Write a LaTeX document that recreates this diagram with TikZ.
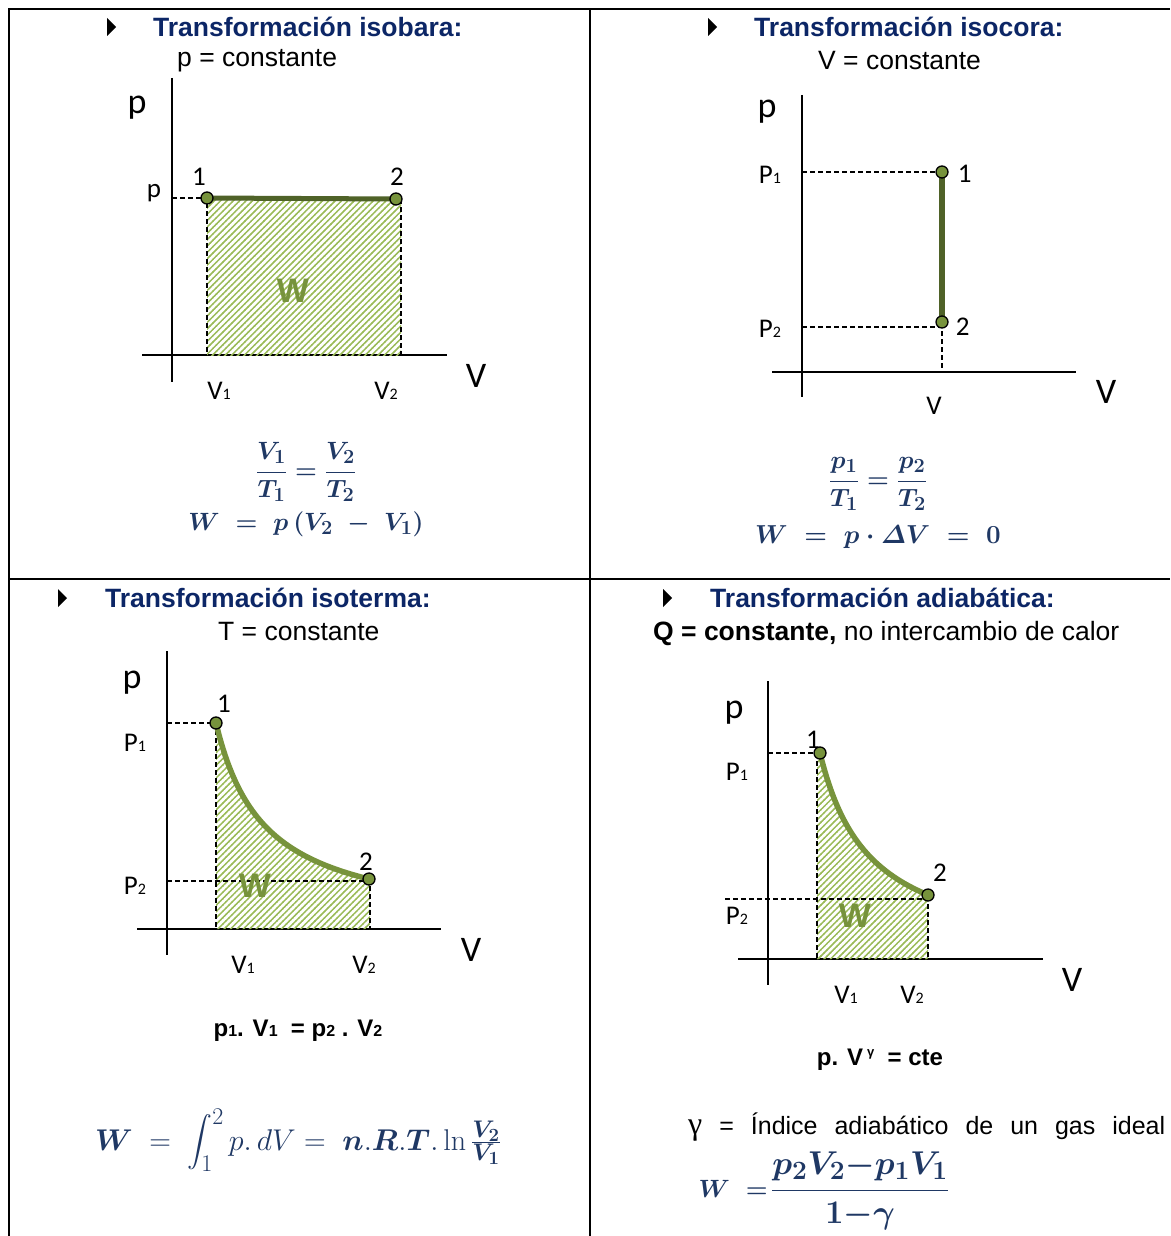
\RequirePackage{fix-cm}
\documentclass[tikz,border=0pt]{standalone}
\usepackage{amsmath}
\usepackage[no-math]{fontspec}
\newfontfamily\arial{Liberation Sans}
\newfontfamily\calib{Carlito}
\newfontfamily\tnr{Liberation Serif}
\usepackage{tikz}
\usetikzlibrary{patterns.meta, positioning}

\definecolor{titleblue}{RGB}{12,38,102}
\definecolor{mathblue}{RGB}{31,56,100}
\definecolor{curvegreen}{RGB}{119,147,60}
\definecolor{linegreen}{RGB}{79,98,40}
\definecolor{hatchgreen}{RGB}{155,187,89}

% bigger sub/superscripts, closer to the original
\def\defaultscriptratio{.8}
\def\defaultscriptscriptratio{.62}

\tikzdeclarepattern{
  name=hatchW,
  type=uncolored,
  bounding box={(-0.5pt,-1pt) and (5pt,1pt)},
  tile size={(4.5pt,4.5pt)},
  tile transformation={rotate=45},
  code={\draw[line width=1.5pt] (-0.5pt,0pt) -- (5pt,0pt);}
}

\newcommand\lo[1]{{\fontsize{16}{16}\selectfont #1}}
\newcommand\bul[2]{\fill ({#1-4},{#2-9}) -- ({#1+5},#2) -- ({#1-4},{#2+9}) -- cycle;}
\newcommand\bmath[1]{{\boldmath$#1$}}

\begin{document}
\begin{tikzpicture}[x=1pt, y=-1pt,
  frame/.style={line width=2pt},
  axis/.style={line width=2pt},
  guide/.style={dash pattern=on 5pt off 3pt, line width=1.5pt},
  hatch/.style={pattern=hatchW, pattern color=hatchgreen},
  pt/.style={circle, draw=black, line width=1.3pt, fill=curvegreen, minimum size=12pt, inner sep=0pt},
  isoline/.style={draw=linegreen, line width=5pt},
  curve/.style={draw=curvegreen, line width=5.5pt},
  title/.style={anchor=west, font=\arial\bfseries\fontsize{26.5}{30}\selectfont, text=titleblue, inner sep=0pt},
  cond/.style={anchor=west, font=\arial\fontsize{26.5}{30}\selectfont, inner sep=0pt},
  axlbl/.style={font=\calib\fontsize{36}{40}\selectfont, inner sep=0pt},
  ptlbl/.style={font=\calib\fontsize{27}{30}\selectfont, inner sep=0pt},
  tick/.style={font=\calib\fontsize{27}{30}\selectfont, inner sep=0pt},
  work/.style={font=\arial\bfseries\fontsize{34}{38}\selectfont, text=curvegreen, inner sep=0pt},
  eq/.style={font=\fontsize{25}{30}\selectfont, text=mathblue, inner sep=0pt},
  law/.style={font=\arial\bfseries\fontsize{24}{28}\selectfont, inner sep=0pt}
]
\useasboundingbox (0,0) rectangle (1170,1236);

% Table frame
\draw[frame] (9,1236) -- (9,9) -- (1170,9);
\draw[frame] (590,9) -- (590,1236);
\draw[frame] (9,579) -- (1170,579);

% Isobara
\bul{111}{27}
\node[title] (t1) at (153,27) {Transformación isobara:};
\node[cond] (c1) at (177,61) {p = constante};
\draw[axis] (172,78) -- (172,382);
\draw[axis] (142,355) -- (447,355);
\node[axlbl] (pax1) at (137,108) {p};
\node[axlbl] (vax1) at (476,376) {V};
\coordinate (a1) at (207,198);
\coordinate (a2) at (396,199);
\fill[hatch] (207,198) rectangle (401,355);
\draw[guide] (172,198) -- (a1) -- (207,355);
\draw[guide] (401,199) -- (401,355);
\draw[isoline] (a1) -- (a2);
\node[pt] (n11) at (a1) {};
\node[pt] (n12) at (a2) {};
\node[ptlbl] (l11) at (199,177) {1};
\node[ptlbl] (l12) at (397,177) {2};
\node[tick] (pp1) at (154,193) {p};
\node[work] (w1) at (293,291) {W};
\node[tick] (v11) at (219,391) {V\lo{1}};
\node[tick] (v12) at (386,391) {V\lo{2}};
\node[eq] (e11) at (306,472) {\bmath{\displaystyle\frac{V_1}{T_1}=\frac{V_2}{T_2}}};
\node[eq] (e12) at (306,524) {\bmath{W\;=\;p\,(V_2\;-\;V_1)}};

% Isocora
\bul{712}{27}
\node[title] (t2) at (754,27) {Transformación isocora:};
\node[cond] (c2) at (818,61) {V = constante};
\draw[axis] (802,95) -- (802,397);
\draw[axis] (772,372) -- (1076,372);
\node[axlbl] (pax2) at (767,112) {p};
\node[axlbl] (vax2) at (1106,392) {V};
\coordinate (b1) at (942,172);
\coordinate (b2) at (942,322);
\draw[guide] (802,172) -- (b1);
\draw[guide] (802,327) -- (942,327) -- (942,372);
\draw[isoline, line width=6pt] (b1) -- (b2);
\node[pt] (n21) at (b1) {};
\node[pt] (n22) at (b2) {};
\node[ptlbl, right=9pt of n21, yshift=-2pt] (l21) {1};
\node[ptlbl, right=7pt of n22, yshift=-5pt] (l22) {2};
\node[tick] (pp21) at (770,175) {P\lo{1}};
\node[tick] (pp22) at (770,329) {P\lo{2}};
\node[tick] (v2) at (934,406) {V};
\node[eq] (e21) at (878,484) {\bmath{\displaystyle\frac{p_1}{T_1}=\frac{p_2}{T_2}}};
\node[eq, font=\fontsize{26}{30}\selectfont] (e22) at (878,537) {\bmath{W\;=\;p\cdot\varDelta V\;=\;0}};

% Isoterma
\bul{62}{598}
\node[title] (t3) at (105,598) {Transformación isoterma:};
\node[cond] (c3) at (218,632) {T = constante};
\draw[axis] (167,651) -- (167,955);
\draw[axis] (137,929) -- (441,929);
\node[axlbl] (pax3) at (132,683) {p};
\node[axlbl] (vax3) at (471,950) {V};
\coordinate (d1) at (216,723);
\coordinate (d2) at (369,879);
\fill[hatch] (216,929) -- plot[domain=216:370, samples=50] (\x,{929-10094/(\x-167)}) -- (370,929) -- cycle;
\draw[guide] (167,723) -- (d1) -- (216,929);
\draw[guide] (167,881) -- (370,881) -- (370,929);
\draw[curve] plot[domain=216:369, samples=50, smooth] (\x,{929-10094/(\x-167)});
\node[pt] (n31) at (d1) {};
\node[pt] (n32) at (d2) {};
\node[ptlbl] (l31) at (224,704) {1};
\node[ptlbl] (l32) at (366,862) {2};
\node[tick] (pp31) at (135,743) {P\lo{1}};
\node[tick] (pp32) at (135,886) {P\lo{2}};
\node[work] (w3) at (255,886) {W};
\node[tick] (v31) at (243,965) {V\lo{1}};
\node[tick] (v32) at (364,965) {V\lo{2}};
\node[law] (k3) at (298,1031) {p\lo{1}. V\lo{1} \ = p\lo{2} . V\lo{2}};
\node[eq, font=\fontsize{30}{34}\selectfont] (e3) at (298,1140) {{$\boldsymbol{W}\;=\;\displaystyle\int_1^2 p.\,dV=\;\boldsymbol{n}.\boldsymbol{R}.\boldsymbol{T}.\ln\tfrac{\boldsymbol{V_2}}{\boldsymbol{V_1}}$}};

% Adiabatica
\bul{667}{598}
\node[title] (t4) at (710,598) {Transformación adiabática:};
\node[cond] (c4) at (653,633) {\bfseries Q = constante,\mdseries\ no intercambio de calor};
\draw[axis] (768,681) -- (768,985);
\draw[axis] (738,959) -- (1043,959);
\node[axlbl] (pax4) at (734,713) {p};
\node[axlbl] (vax4) at (1072,980) {V};
\coordinate (f1) at (820,753);
\coordinate (f2) at (928,895);
\fill[hatch] (817,959) -- (817,753) -- plot[domain=820:928, samples=50] (\x,{959-12545/pow(\x-768,1.04)}) -- (928,959) -- cycle;
\draw[guide] (768,753) -- (f1);
\draw[guide] (817,753) -- (817,959);
\draw[guide] (725,899) -- (928,899) -- (928,959);
\draw[curve] plot[domain=820:928, samples=50, smooth] (\x,{959-12545/pow(\x-768,1.04)});
\node[pt] (n41) at (f1) {};
\node[pt] (n42) at (f2) {};
\node[ptlbl] (l41) at (813,740) {1};
\node[ptlbl] (l42) at (940,873) {2};
\node[tick] (pp41) at (737,772) {P\lo{1}};
\node[tick] (pp42) at (737,916) {P\lo{2}};
\node[work] (w4) at (855,916) {W};
\node[tick] (v41) at (846,995) {V\lo{1}};
\node[tick] (v42) at (912,995) {V\lo{2}};
\node[law] (k4) at (880,1060) {p. V\,\raisebox{9pt}{\fontsize{13}{13}\selectfont γ}\ \ = cte};
\node[cond, font=\arial\fontsize{25}{28}\selectfont] (g4) at (688,1127) {\makebox[477pt][s]{{\tnr\fontsize{32}{32}\selectfont γ} = Índice adiabático de un gas ideal}};
\node[eq, anchor=east] (w4f) at (768,1189) {\bmath{W\;=}};
\node[eq, font=\fontsize{33}{37}\selectfont, anchor=west] (f4) at (771,1191) {\bmath{\dfrac{p_2V_2{-}p_1V_1}{1{-}\gamma}}};

\end{tikzpicture}
\end{document}
